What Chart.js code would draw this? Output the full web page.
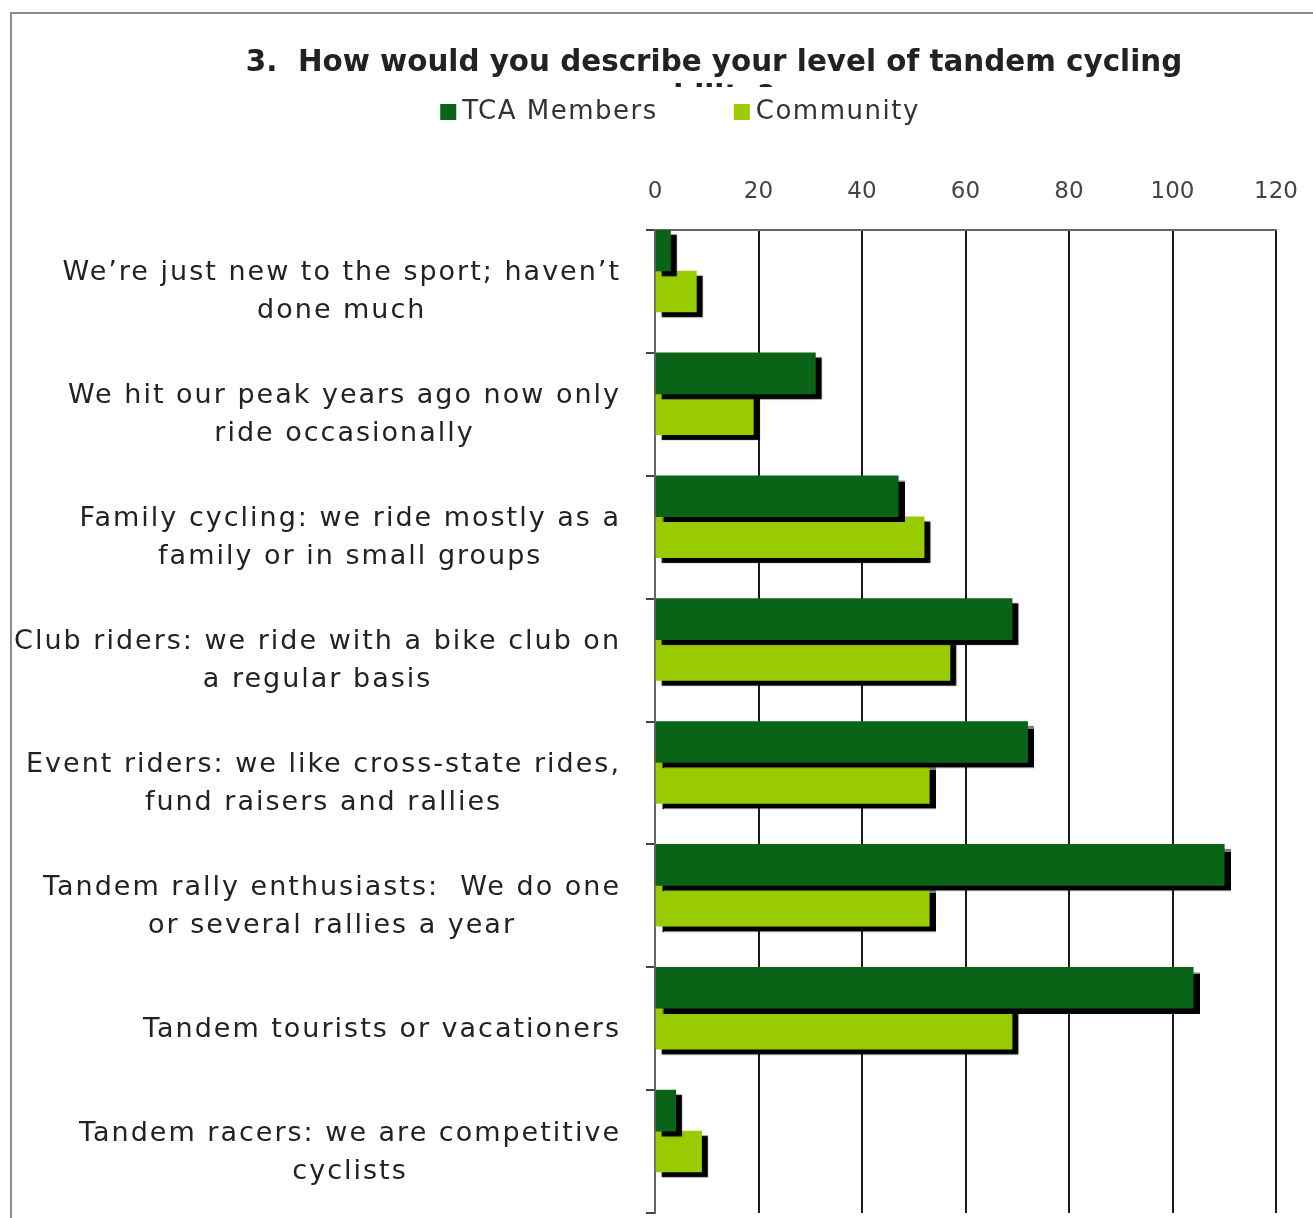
<!DOCTYPE html>
<html>
<head>
<meta charset="utf-8">
<script src="https://cdn.jsdelivr.net/npm/chart.js@4.4.1/dist/chart.umd.min.js"></script>
<style>
  body { margin: 0; background: #fff; }
  #wrap { position: relative; width: 1313px; height: 1218px; }
  #frame { position: absolute; left: 10px; top: 12px; right: 0; bottom: 0; border-top: 2px solid #8c8c8c; border-left: 2px solid #8c8c8c; pointer-events: none; }
</style>
</head>
<body>
<div id="wrap">
  <canvas id="chart_tandem" width="1313" height="1218"></canvas>
  <div id="frame"></div>
</div>
<script>
// question title, second line is mostly hidden behind the legend
const title_lines = ['3.  How would you describe your level of tandem cycling', 'ability?'];

const categories = [
  ['We\u2019re just new to the sport; haven\u2019t', 'done much'],
  ['We hit our peak years ago now only', 'ride occasionally'],
  ['Family cycling: we ride mostly as a', 'family or in small groups'],
  ['Club riders: we ride with a bike club on', 'a regular basis'],
  ['Event riders: we like cross-state rides,', 'fund raisers and rallies'],
  ['Tandem rally enthusiasts:  We do one', 'or several rallies a year'],
  ['Tandem tourists or vacationers'],
  ['Tandem racers: we are competitive', 'cyclists']
];

const tca_members = [3, 31, 47, 69, 72, 110, 104, 4];
const community   = [8, 19, 52, 57, 53, 53, 69, 9];

const x_ticks = [0, 20, 40, 60, 80, 100, 120];

const series_names  = ['TCA Members', 'Community'];
const series_colors = ['#0a6417', '#99cc00'];

// black drop shadow under every bar
const shadow_plugin = {
  id: 'bar_shadow',
  beforeDatasetDraw(chart) {
    const ctx = chart.ctx;
    ctx.save();
    ctx.shadowColor = '#000';
    ctx.shadowOffsetX = 6;
    ctx.shadowOffsetY = 5;
    ctx.shadowBlur = 1;
  },
  afterDatasetDraw(chart) {
    chart.ctx.restore();
  }
};

// category labels: block right aligned, lines centred inside the block
const side_labels = {
  id: 'side_labels',
  afterDraw(chart) {
    const ctx = chart.ctx, y = chart.scales.y;
    const right = y.right - 34;
    ctx.save();
    ctx.font = '27px "DejaVu Sans"';
    ctx.letterSpacing = '2px';
    ctx.fillStyle = '#222';
    ctx.textAlign = 'center';
    ctx.textBaseline = 'middle';
    categories.forEach((lines, i) => {
      const cy = y.getPixelForTick(i);
      const w = Math.max(...lines.map(l => ctx.measureText(l).width));
      const cx = right - w / 2;
      lines.forEach((l, j) => {
        ctx.fillText(l, cx, cy + 1 + (j - (lines.length - 1) / 2) * 38);
      });
    });
    ctx.restore();
  }
};

// title (clipped like the original) and legend
const head_plugin = {
  id: 'head',
  afterDraw(chart) {
    const ctx = chart.ctx;
    ctx.save();
    let size = 28;
    ctx.font = 'bold ' + size + 'px "DejaVu Sans"';
    let w = ctx.measureText(title_lines[0]).width;
    size = size * 937 / w;
    ctx.font = 'bold ' + size + 'px "DejaVu Sans"';
    ctx.fillStyle = '#222';
    ctx.textAlign = 'center';
    ctx.textBaseline = 'alphabetic';
    ctx.fillText(title_lines[0], 714, 71);
    ctx.beginPath();
    ctx.rect(0, 0, chart.width, 87);
    ctx.clip();
    ctx.fillText(title_lines[1], 714, 106);
    ctx.restore();

    // legend
    ctx.save();
    ctx.font = '26px "DejaVu Sans"';
    ctx.letterSpacing = '1.5px';
    ctx.textBaseline = 'middle';
    ctx.textAlign = 'left';
    const box = 16, gap = 6, spacing = 76;
    const widths = series_names.map(n => box + gap + ctx.measureText(n).width);
    const total = widths.reduce((a, b) => a + b, 0) + spacing * (series_names.length - 1);
    let x = 680 - total / 2;
    const ly = 112;
    chart.data.datasets.forEach((ds, i) => {
      if (!ds.label) return;
      ctx.fillStyle = ds.backgroundColor;
      ctx.fillRect(x, ly - box / 2, box, box);
      ctx.fillStyle = '#333';
      ctx.fillText(ds.label, x + box + gap, ly);
      x += widths[i] + spacing;
    });
    ctx.restore();
  }
};

var ctx = document.getElementById('chart_tandem').getContext('2d');
var myChart = new Chart(ctx, {
  type: 'bar',
  data: {
    labels: categories,
    datasets: [
      { label: series_names[0], data: tca_members, backgroundColor: series_colors[0], borderWidth: 0 },
      { label: series_names[1], data: community, backgroundColor: series_colors[1], borderWidth: 0 },
      // empty slot so the pair sits at the top of each band
      { label: '', data: categories.map(() => null), backgroundColor: 'rgba(0,0,0,0)' }
    ]
  },
  options: {
    indexAxis: 'y',
    responsive: false,
    animation: false,
    categoryPercentage: 1,
    barPercentage: 1,
    layout: { padding: { top: 170, right: 37, bottom: 5, left: 0 } },
    plugins: {
      legend: { display: false },
      title: { display: false },
      tooltip: { enabled: false }
    },
    scales: {
      x: {
        position: 'top',
        min: x_ticks[0],
        max: x_ticks[x_ticks.length - 1],
        afterBuildTicks: s => { s.ticks = x_ticks.map(v => ({ value: v })); },
        afterFit: s => { s.height = 60; s.paddingLeft = 0; s.paddingRight = 0; },
        grid: { color: '#1a1a1a', lineWidth: 2, drawTicks: false },
        border: { color: '#666', width: 2 },
        ticks: { padding: 24, color: '#444', font: { family: 'DejaVu Sans', size: 23 } }
      },
      y: {
        afterFit: s => { s.width = 655; },
        grid: { drawOnChartArea: false, drawTicks: true, tickLength: 9, color: '#444', lineWidth: 2 },
        border: { color: '#666', width: 2 },
        ticks: { callback: () => '', font: { size: 1 } }
      }
    }
  },
  plugins: [shadow_plugin, side_labels, head_plugin]
});
</script>
</body>
</html>
